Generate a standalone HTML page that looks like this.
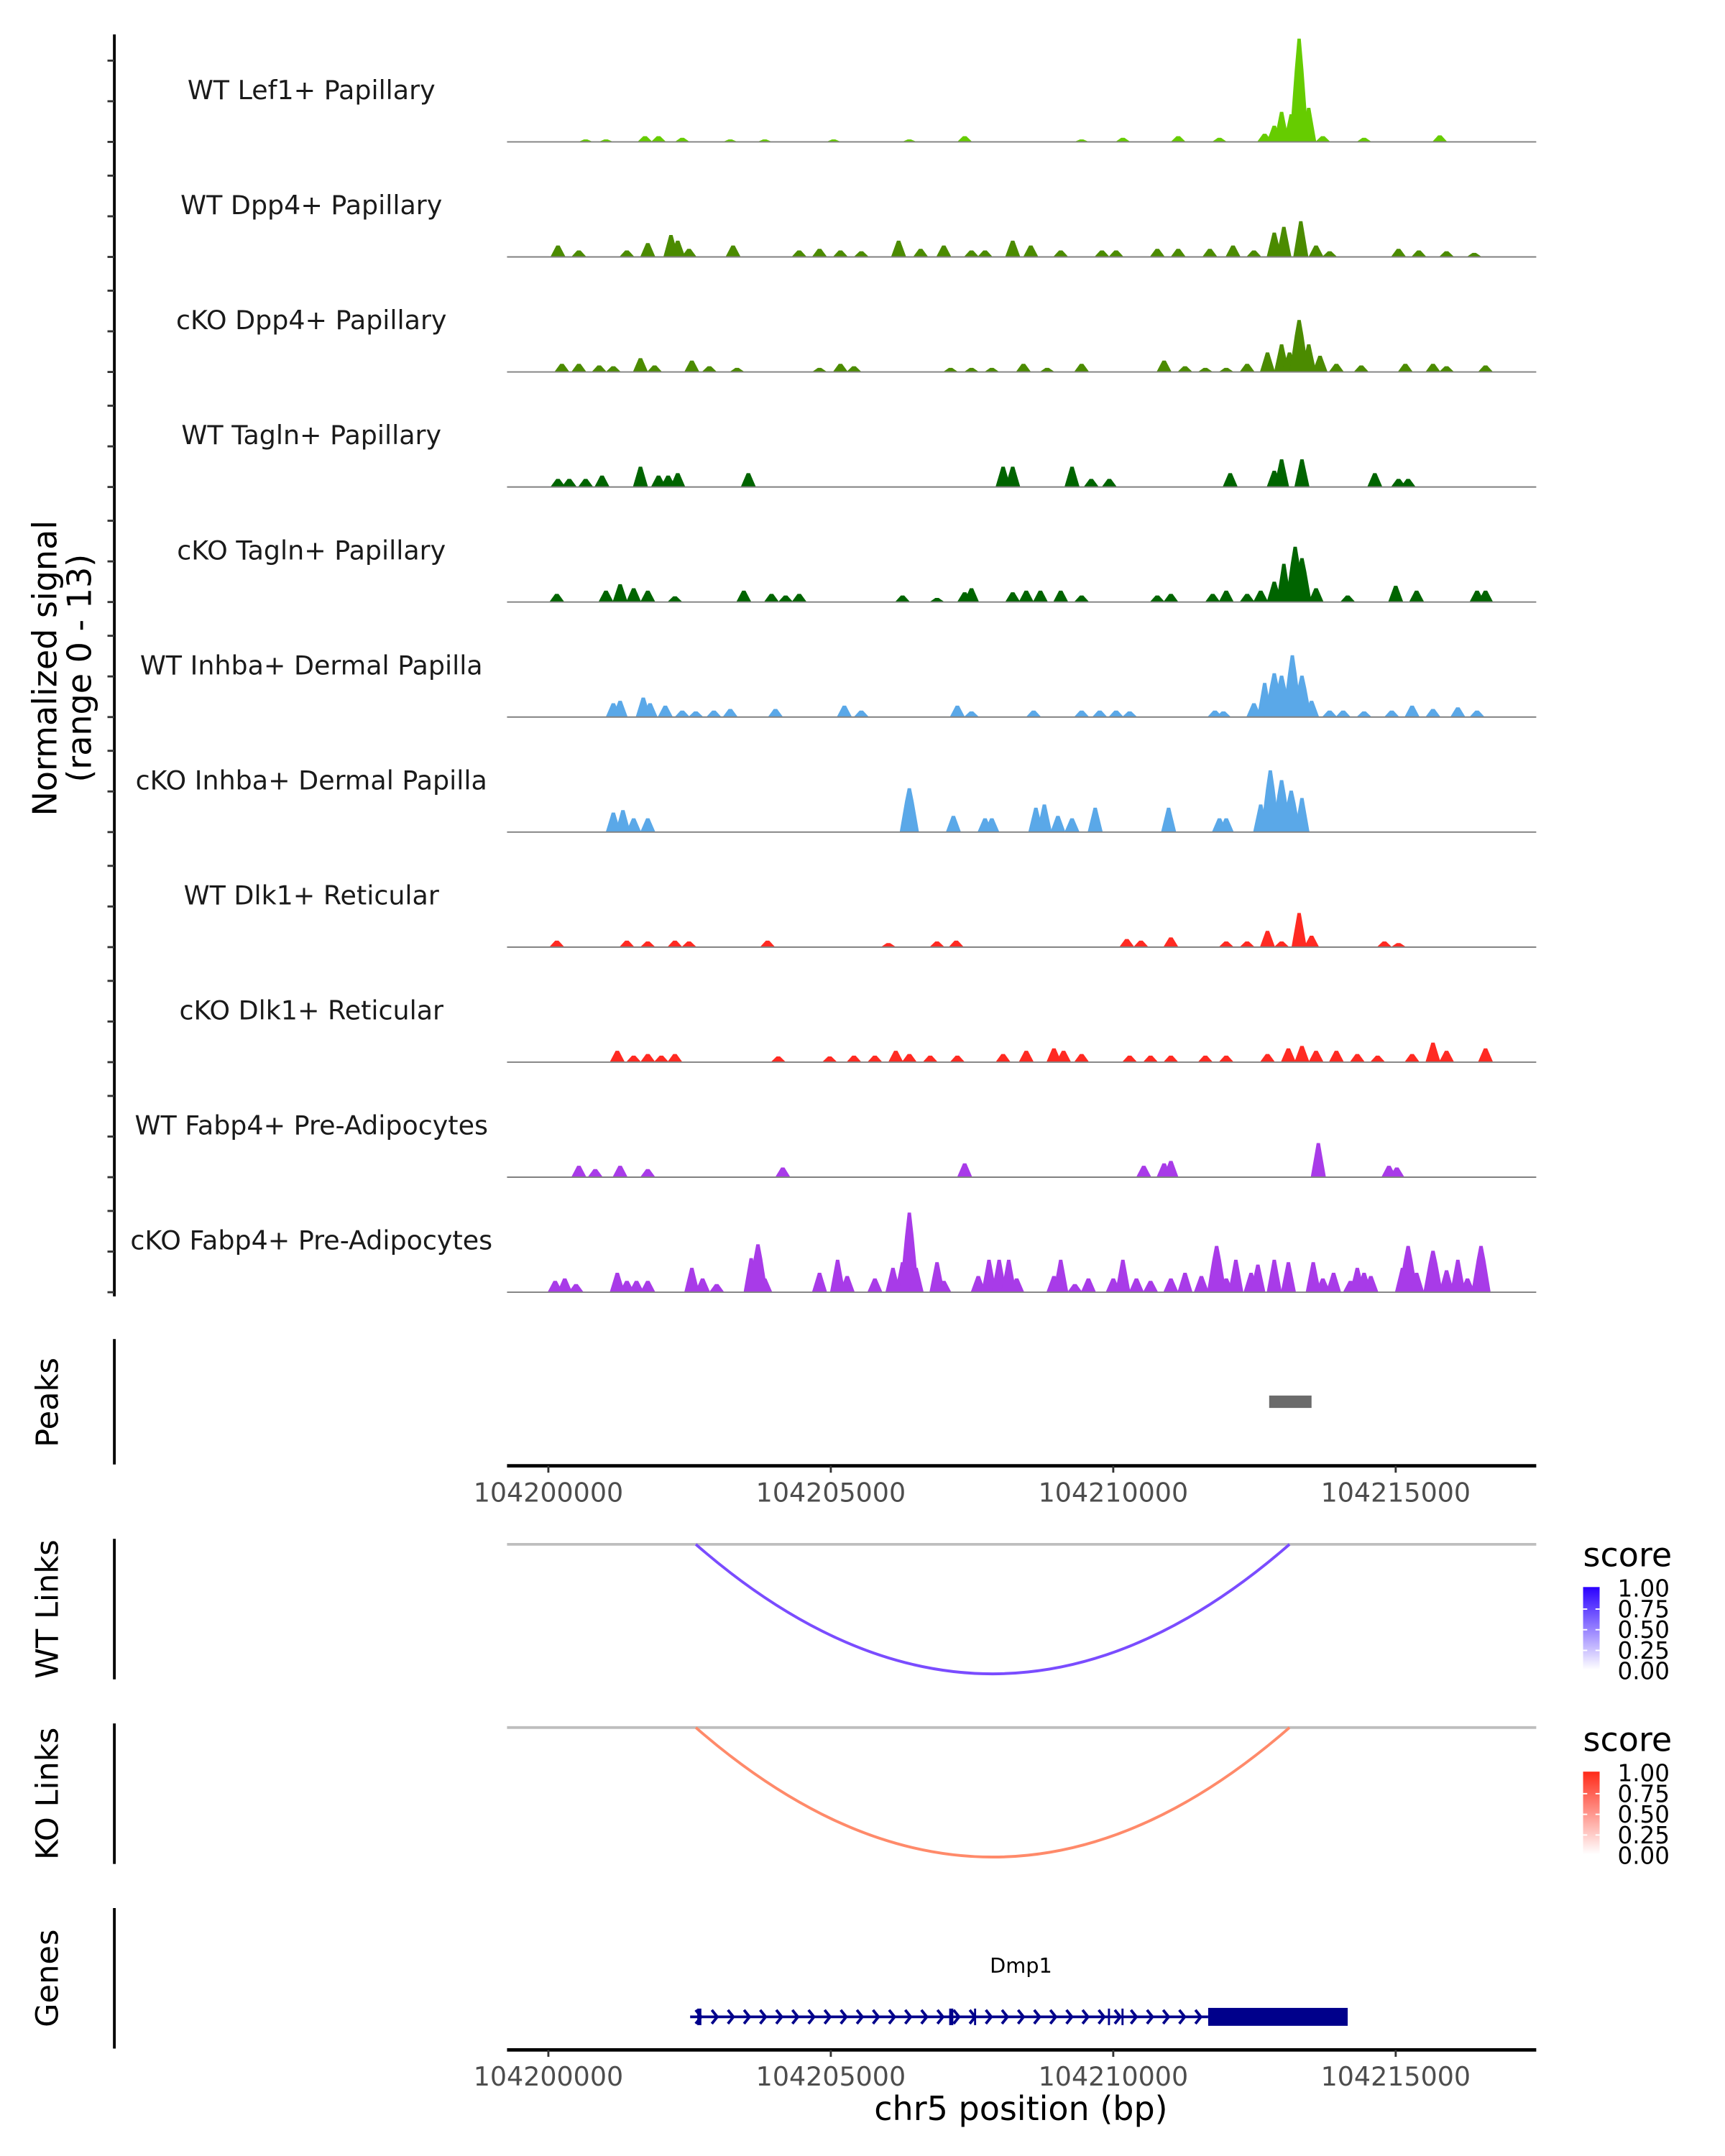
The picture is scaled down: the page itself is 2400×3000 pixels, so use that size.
<!DOCTYPE html>
<html><head><meta charset="utf-8"><style>
html,body{margin:0;padding:0;background:#fff}
svg{display:block}
text{font-family:"DejaVu Sans","Liberation Sans",sans-serif}
</style></head><body>
<svg id="chart" width="2400" height="3000" viewBox="0 0 1252 1565" xmlns="http://www.w3.org/2000/svg"></svg>
<script>
// ---- data ----
const trackNames = ["WT Lef1+ Papillary","WT Dpp4+ Papillary","cKO Dpp4+ Papillary","WT Tagln+ Papillary","cKO Tagln+ Papillary","WT Inhba+ Dermal Papilla","cKO Inhba+ Dermal Papilla","WT Dlk1+ Reticular","cKO Dlk1+ Reticular","WT Fabp4+ Pre-Adipocytes","cKO Fabp4+ Pre-Adipocytes"];
const trackColors = ["#66cc00","#4b8b00","#4b8b00","#006400","#006400","#5aa8e8","#5aa8e8","#ff2a22","#ff2a22","#a83be8","#a83be8"];
// positions in kb offset from 104200000, values in normalized signal
const lef1Pos = [0.66,1.02,1.71,1.95,2.37,3.22,3.83,5.05,6.39,7.37,9.44,10.17,11.15,11.88,12.68,12.85,12.98,13.15,13.29,13.46,13.71,14.44,15.78];
const lef1Val = [0.3,0.3,0.7,0.7,0.5,0.3,0.3,0.3,0.3,0.7,0.3,0.5,0.7,0.5,1.0,2.0,3.7,3.4,12.7,4.2,0.7,0.5,0.8];
const dpp4WtPos = [0.17,0.54,1.39,1.76,2.17,2.29,2.49,3.27,4.44,4.8,5.17,5.54,6.2,6.59,7.0,7.49,7.73,8.22,8.54,9.07,9.8,10.05,10.78,11.15,11.71,12.12,12.49,12.85,13.02,13.32,13.59,13.83,15.05,15.41,15.9,16.39];
const dpp4WtVal = [1.4,0.8,0.8,1.7,2.7,2.0,1.0,1.4,0.8,1.0,0.8,0.7,2.0,1.0,1.4,0.8,0.8,2.0,1.4,0.8,0.8,0.8,1.0,1.0,1.0,1.4,0.8,3.0,3.7,4.4,1.4,0.7,1.0,0.8,0.7,0.5];
const dpp4KoPos = [0.24,0.54,0.9,1.15,1.63,1.88,2.54,2.85,3.34,4.8,5.17,5.41,7.12,7.49,7.85,8.41,8.83,9.44,10.9,11.27,11.63,12.0,12.37,12.73,12.98,13.12,13.29,13.46,13.66,13.95,14.39,15.17,15.66,15.9,16.59];
const dpp4KoVal = [1.0,1.0,0.8,0.7,1.7,0.8,1.4,0.7,0.5,0.5,1.0,0.7,0.5,0.5,0.5,1.0,0.5,1.0,1.4,0.7,0.5,0.5,1.0,2.4,3.4,2.4,6.4,3.4,2.0,1.0,0.8,1.0,1.0,0.7,0.8];
const taglnWtPos = [0.17,0.37,0.66,0.95,1.63,1.95,2.12,2.29,3.54,8.05,8.22,9.27,9.61,9.93,12.07,12.85,12.98,13.34,14.63,15.05,15.22];
const taglnWtVal = [1.0,1.0,1.0,1.4,2.5,1.4,1.4,1.7,1.7,2.5,2.5,2.5,1.0,1.0,1.7,2.0,3.4,3.4,1.7,1.0,1.0];
const taglnKoPos = [0.15,1.02,1.27,1.51,1.76,2.24,3.46,3.95,4.2,4.44,6.27,6.88,7.37,7.49,8.22,8.46,8.71,9.07,9.44,10.78,11.02,11.76,12.0,12.37,12.61,12.85,13.02,13.22,13.34,13.59,14.15,15.0,15.37,16.44,16.59];
const taglnKoVal = [1.0,1.4,2.2,1.7,1.4,0.7,1.4,1.0,0.8,1.0,0.8,0.5,1.2,1.7,1.2,1.4,1.4,1.4,0.8,0.8,1.0,1.0,1.4,1.0,1.4,2.5,4.7,6.8,5.4,1.7,0.8,2.0,1.4,1.4,1.4];
const inhbaWtPos = [1.15,1.27,1.68,1.8,2.07,2.37,2.61,2.93,3.22,4.02,5.24,5.54,7.24,7.49,8.59,9.44,9.76,10.05,10.29,11.8,11.95,12.49,12.68,12.85,12.98,13.17,13.34,13.51,13.83,14.07,14.44,14.93,15.29,15.66,16.1,16.44];
const inhbaWtVal = [1.7,2.0,2.4,1.7,1.4,0.8,0.7,0.8,1.0,1.0,1.4,0.8,1.4,0.7,0.8,0.8,0.8,0.8,0.7,0.8,0.7,1.7,4.2,5.4,5.1,7.6,5.1,2.0,0.8,0.8,0.7,0.8,1.4,1.0,1.2,0.8];
const inhbaKoPos = [1.15,1.32,1.51,1.76,6.39,7.17,7.73,7.85,8.63,8.78,9.02,9.27,9.68,10.98,11.88,12.0,12.61,12.78,12.98,13.15,13.34];
const inhbaKoVal = [2.4,2.7,1.7,1.7,5.4,2.0,1.7,1.7,3.0,3.4,2.0,1.7,3.0,3.0,1.7,1.7,3.4,7.6,6.4,5.1,4.2];
const dlk1WtPos = [0.15,1.39,1.76,2.24,2.49,3.88,6.02,6.88,7.22,10.24,10.49,11.02,12.0,12.37,12.73,12.98,13.29,13.51,14.8,15.05];
const dlk1WtVal = [0.8,0.8,0.7,0.8,0.7,0.8,0.5,0.7,0.8,1.0,0.8,1.2,0.7,0.7,2.0,0.7,4.2,1.4,0.7,0.5];
const dlk1KoPos = [1.22,1.51,1.76,2.0,2.24,4.07,4.98,5.41,5.78,6.15,6.39,6.76,7.24,8.05,8.46,8.95,9.12,9.44,10.29,10.66,11.02,11.63,12.0,12.73,13.1,13.34,13.59,13.95,14.32,14.68,15.29,15.66,15.9,16.59];
const dlk1KoVal = [1.4,0.8,1.0,0.8,1.0,0.7,0.7,0.8,0.8,1.4,1.0,0.8,0.8,1.0,1.4,1.7,1.4,1.0,0.8,0.8,0.8,0.8,0.8,1.0,1.7,2.0,1.4,1.4,1.0,0.8,1.0,2.4,1.4,1.7];
const fabp4WtPos = [0.54,0.83,1.27,1.76,4.15,7.37,10.54,10.9,11.02,13.63,14.88,15.02];
const fabp4WtVal = [1.4,1.0,1.4,1.0,1.2,1.7,1.4,1.7,2.0,4.2,1.4,1.2];
const fabp4KoPos = [0.12,0.29,0.49,1.22,1.39,1.56,1.76,2.54,2.73,2.98,3.59,3.71,3.83,4.8,5.12,5.29,5.78,6.1,6.27,6.39,6.51,6.88,7.0,7.61,7.8,7.98,8.15,8.29,8.95,9.07,9.32,9.56,10.0,10.17,10.41,10.66,11.02,11.27,11.56,11.83,12.0,12.17,12.44,12.56,12.85,13.1,13.54,13.71,13.9,14.2,14.32,14.44,14.56,15.12,15.22,15.37,15.66,15.9,16.1,16.27,16.51];
const fabp4KoVal = [1.4,1.7,1.0,2.4,1.4,1.4,1.4,3.0,1.7,1.0,4.2,5.9,1.7,2.4,4.0,2.0,1.7,3.0,3.7,9.8,3.0,3.7,1.4,2.0,4.0,4.0,4.0,1.7,2.0,4.0,1.0,1.7,1.7,4.0,1.7,1.4,1.7,2.4,2.0,5.7,1.7,4.0,2.4,3.4,4.0,3.7,3.7,1.7,2.4,1.4,3.0,2.4,2.0,3.0,5.7,2.4,5.1,2.7,4.0,1.7,5.7];
const trackPos = [lef1Pos,dpp4WtPos,dpp4KoPos,taglnWtPos,taglnKoPos,inhbaWtPos,inhbaKoPos,dlk1WtPos,dlk1KoPos,fabp4WtPos,fabp4KoPos];
const trackVal = [lef1Val,dpp4WtVal,dpp4KoVal,taglnWtVal,taglnKoVal,inhbaWtVal,inhbaKoVal,dlk1WtVal,dlk1KoVal,fabp4WtVal,fabp4KoVal];
const xTicks = [104200000,104205000,104210000,104215000];
const peakStart = [12.76]; const peakEnd = [13.51];
const linkStart = [2.61]; const linkEnd = [13.12]; const wtScore = [0.7]; const koScore = [0.5];
const geneStart = 2.51, geneEnd = 14.15, cdsStart = 11.68;
const exonPos = [2.66,7.12,7.56,9.93,10.17];
const legendLabels = ["1.00","0.75","0.50","0.25","0.00"];

// ---- scales ----
const NS="http://www.w3.org/2000/svg", svg=document.getElementById('chart');
const X0=368, X1=1115;
const xs = kb => 398 + kb*41;
const xbp = bp => xs((bp-104200000)/1000);
const base0 = 103, trackStep = 83.5, unit = 5.9;
function el(tag, attrs, parent){const e=document.createElementNS(NS,tag);for(const k in attrs)e.setAttribute(k,attrs[k]);(parent||svg).appendChild(e);return e;}

const ax = el('line',{x1:83,y1:25,x2:83,y2:941,stroke:'#000','stroke-width':2});


for(let i=0;i<trackNames.length;i++){
  const b = base0 + i*trackStep;
  [0,5,10].forEach(v=>{
    const t=el('line',{x1:78,x2:83,y1:b-v*unit,y2:b-v*unit,stroke:'#333','stroke-width':1.5});
    
    
  });
  const g = el('g',{});
  
  
  const lab = el('text',{x:226,y:b-31,'text-anchor':'middle','font-size':19,fill:'#1a1a1a'},g);
  lab.textContent = trackNames[i];
  
  
  trackPos[i].forEach((p,j)=>{
    const x=xs(p), h=trackVal[i][j]*unit;
    const hw = h>30 ? 7 : 5.5;
    const pk=el('polygon',{points:`${x-hw},${b} ${x-hw*0.45},${b-h*0.7} ${x-1.2},${b-h} ${x+1.2},${b-h} ${x+hw*0.45},${b-h*0.7} ${x+hw},${b}`,fill:trackColors[i]},g);
    
    
  });
  const bl=el('line',{x1:X0,x2:X1,y1:b,y2:b,stroke:'#808080','stroke-width':1},g);
  
  
}
const yt = el('text',{transform:'translate(41,485) rotate(-90)','text-anchor':'middle','font-size':24,fill:'#000'});


yt.innerHTML='<tspan x="0" dy="0">Normalized signal</tspan><tspan x="0" dy="25">(range 0 - 13)</tspan>';

function sideLabel(txt,y,y1,y2,name){
  const l=el('line',{x1:83,x2:83,y1:y1,y2:y2,stroke:'#000','stroke-width':2});
  
  
  const t=el('text',{transform:`translate(42,${y}) rotate(-90)`,'text-anchor':'middle','font-size':22.5,fill:'#000'});
  t.textContent=txt;
  
  
}
function xAxis(y,name){
  const a=el('line',{x1:X0,x2:X1,y1:y,y2:y,stroke:'#000','stroke-width':2.5});
  
  
  xTicks.forEach(v=>{
    const tk=el('line',{x1:xbp(v),x2:xbp(v),y1:y,y2:y+5,stroke:'#333','stroke-width':1.5});
    
    
    const tl=el('text',{x:xbp(v),y:y+26,'text-anchor':'middle','font-size':19,fill:'#4d4d4d'});
    tl.textContent=v;
    
    
  });
}
sideLabel('Peaks',1018,972,1063,'peaks');
peakStart.forEach((s,i)=>{
  const r=el('rect',{x:xs(s),y:1013,width:xs(peakEnd[i])-xs(s),height:9,fill:'#6b6b6b'});
  
  
});
xAxis(1064,'peaks-x-axis');

function links(top,scores,col,name){
  const gl=el('line',{x1:X0,x2:X1,y1:top,y2:top,stroke:'#bebebe','stroke-width':2});
  
  
  linkStart.forEach((s,i)=>{
    const a=xs(s), b=xs(linkEnd[i]), depth=94;
    const p=el('path',{d:`M${a},${top} Q${(a+b)/2},${top+2*depth} ${b},${top}`,fill:'none',stroke:col,'stroke-width':2});
    
    
  });
}
sideLabel('WT Links',1168,1117,1219,'wt-links');
links(1121,wtScore,'#7a4cff','wt-link');
sideLabel('KO Links',1302,1251,1353,'ko-links');
links(1254,koScore,'#ff8a6a','ko-link');

const defs=el('defs',{});
defs.innerHTML='<linearGradient id="gb" x1="0" y1="1" x2="0" y2="0"><stop offset="0" stop-color="#fff"/><stop offset="1" stop-color="#2a00ff"/></linearGradient><linearGradient id="gr" x1="0" y1="1" x2="0" y2="0"><stop offset="0" stop-color="#fff"/><stop offset="1" stop-color="#ff2a18"/></linearGradient>';
function legend(y,grad,name){
  const g=el('g',{});
  
  
  const t=el('text',{x:1149,y:y,'font-size':24,fill:'#000'},g); t.textContent='score';
  el('rect',{x:1149,y:y+15,width:12,height:60,fill:`url(#${grad})`},g);
  legendLabels.forEach((l,i)=>{
    const yy=y+16+i*15;
    if(i>0&&i<4){el('line',{x1:1149,x2:1152,y1:yy,y2:yy,stroke:'#fff'},g);el('line',{x1:1158,x2:1161,y1:yy,y2:yy,stroke:'#fff'},g);}
    const tt=el('text',{x:1174,y:yy+6,'font-size':17,fill:'#000'},g); tt.textContent=l;
  });
}
legend(1137,'gb','wt-score-legend');
legend(1271,'gr','ko-score-legend');

sideLabel('Genes',1436,1385,1487,'genes');
const gname=el('text',{x:741,y:1432,'text-anchor':'middle','font-size':15,fill:'#000'});
gname.textContent='Dmp1';


const gy=1464;
const gl=el('line',{x1:xs(geneStart),x2:xs(cdsStart),y1:gy,y2:gy,stroke:'#00008b','stroke-width':2});


for(let x=xs(geneStart)+4;x<xs(cdsStart)-3;x+=11.7){
  const ar=el('polyline',{points:`${x},${gy-5} ${x+4},${gy} ${x},${gy+5}`,fill:'none',stroke:'#00008b','stroke-width':2});
  
  
}
exonPos.forEach((p,i)=>{
  const e=el('rect',{x:xs(p)-1,y:gy-6,width:i===0||i===1?3:1.5,height:12,fill:'#00008b'});
  
  
});
const cds=el('rect',{x:xs(cdsStart),y:gy-6.5,width:xs(geneEnd)-xs(cdsStart),height:13,fill:'#00008b'});


xAxis(1488,'genes-x-axis');
const xt=el('text',{x:741,y:1539,'text-anchor':'middle','font-size':24,fill:'#000'});
xt.textContent='chr5 position (bp)';


</script>
</body></html>
